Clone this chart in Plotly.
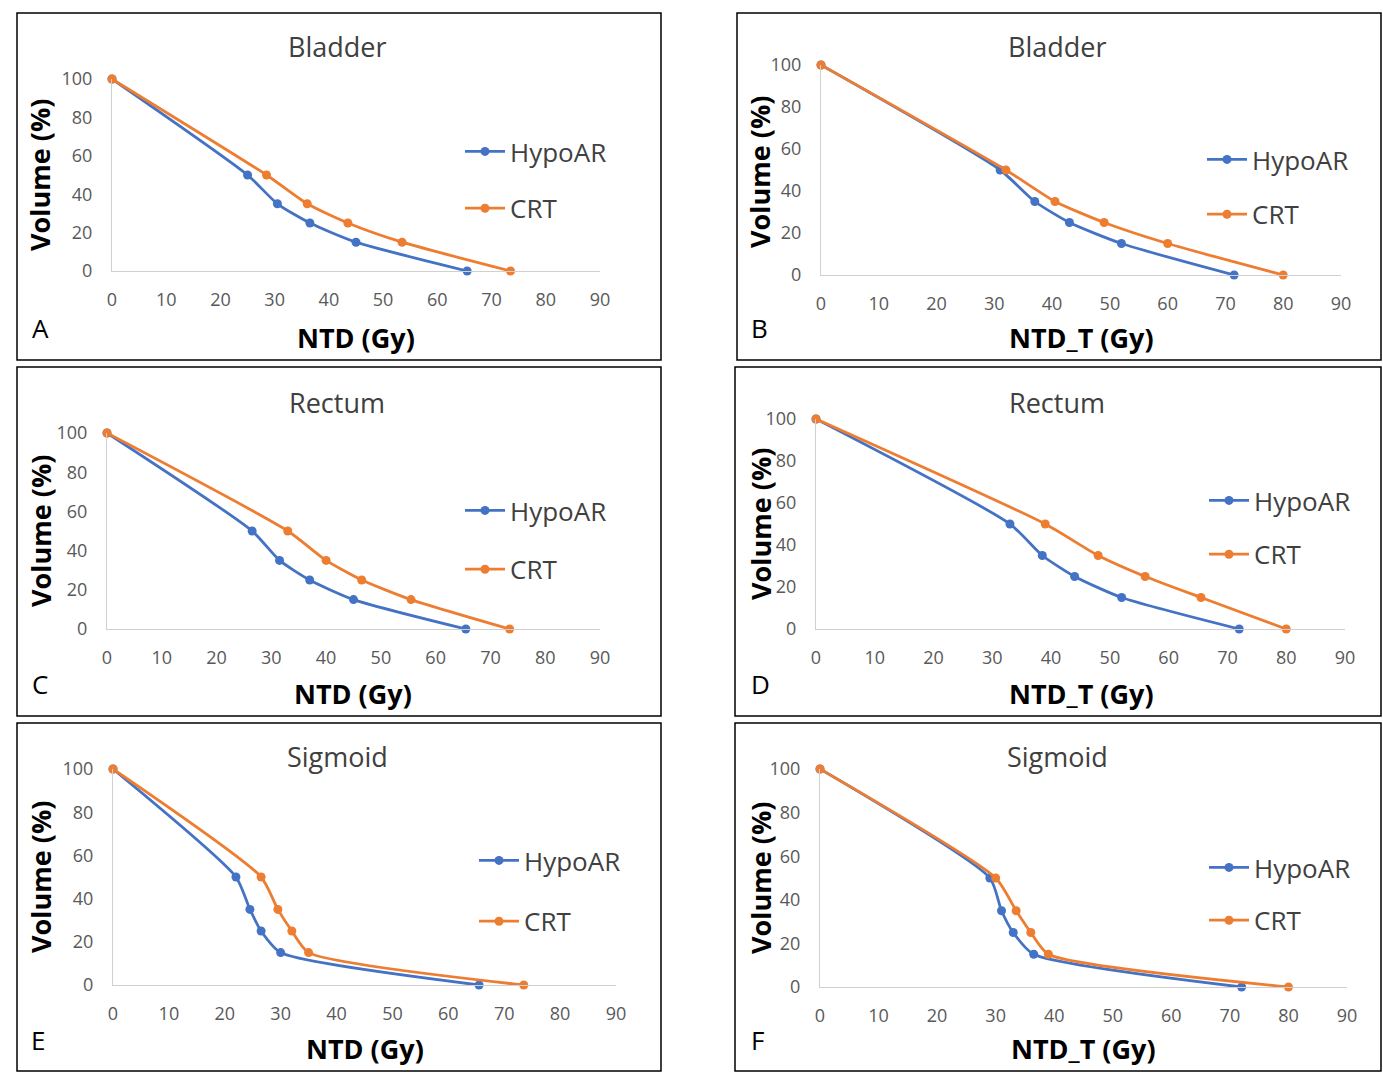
import plotly.graph_objects as go

W, H = 1383, 1080

# ---------------- data ----------------
vol_hypo = [100, 50, 35, 25, 15, 0]
vol_crt = [100, 50, 35, 25, 15, 0]

bladder_ntd_hypo = [0, 25, 30.5, 36.5, 45, 65.5]
bladder_ntd_crt = [0, 28.5, 36, 43.5, 53.5, 73.5]
bladder_ntdt_hypo = [0, 31, 37, 43, 52, 71.5]
bladder_ntdt_crt = [0, 32, 40.5, 49, 60, 80]
rectum_ntd_hypo = [0, 26.5, 31.5, 37, 45, 65.5]
rectum_ntd_crt = [0, 33, 40, 46.5, 55.5, 73.5]
rectum_ntdt_hypo = [0, 33, 38.5, 44, 52, 72]
rectum_ntdt_crt = [0, 39, 48, 56, 65.5, 80]
sigmoid_ntd_hypo = [0, 22, 24.5, 26.5, 30, 65.5]
sigmoid_ntd_crt = [0, 26.5, 29.5, 32, 35, 73.5]
sigmoid_ntdt_hypo = [0, 29, 31, 33, 36.5, 72]
sigmoid_ntdt_crt = [0, 30, 33.5, 36, 39, 80]

x_ticks = [0, 10, 20, 30, 40, 50, 60, 70, 80, 90]
y_ticks = [0, 20, 40, 60, 80, 100]
series_names = ["HypoAR", "CRT"]
colors = ["#4472C4", "#ED7D31"]

FONT = "Open Sans"

panels = [
    dict(letter="A", title="Bladder", xt="NTD (Gy)", hx=bladder_ntd_hypo, cx=bladder_ntd_crt,
         box=(17, 13, 661, 360), plot=(112, 79, 600, 271), leg=(460, 128), gap=20,
         ttl=(337, 46), xtl=(356, 338), ytl=(40, 175), let=(40, 328)),
    dict(letter="B", title="Bladder", xt="NTD_T (Gy)", hx=bladder_ntdt_hypo, cx=bladder_ntdt_crt,
         box=(737, 13, 1381, 360), plot=(821, 65, 1341, 275), leg=(1202, 136), gap=18,
         ttl=(1057, 46), xtl=(1081, 338), ytl=(760, 172), let=(759, 328)),
    dict(letter="C", title="Rectum", xt="NTD (Gy)", hx=rectum_ntd_hypo, cx=rectum_ntd_crt,
         box=(17, 367, 661, 716), plot=(107, 433, 600, 629), leg=(460, 487), gap=22,
         ttl=(337, 402), xtl=(353, 693), ytl=(40, 531), let=(40, 684)),
    dict(letter="D", title="Rectum", xt="NTD_T (Gy)", hx=rectum_ntdt_hypo, cx=rectum_ntdt_crt,
         box=(735, 367, 1381, 716), plot=(816, 419, 1345, 629), leg=(1204, 477), gap=17,
         ttl=(1057, 402), xtl=(1081, 693), ytl=(760, 524), let=(761, 684)),
    dict(letter="E", title="Sigmoid", xt="NTD (Gy)", hx=sigmoid_ntd_hypo, cx=sigmoid_ntd_crt,
         box=(17, 723, 661, 1071), plot=(113, 769, 616, 985), leg=(474, 837), gap=24,
         ttl=(337, 756), xtl=(365, 1048), ytl=(40, 877), let=(38, 1040)),
    dict(letter="F", title="Sigmoid", xt="NTD_T (Gy)", hx=sigmoid_ntdt_hypo, cx=sigmoid_ntdt_crt,
         box=(735, 723, 1381, 1071), plot=(820, 769, 1347, 987), leg=(1204, 844), gap=16,
         ttl=(1057, 756), xtl=(1083, 1048), ytl=(760, 878), let=(757, 1040)),
]


def px(x):
    return x / W


def py(y):
    return 1 - y / H


fig = go.Figure()
annotations = []
shapes = []
layout_extra = {}


def add_text(text, x, y, size, color, angle=0):
    annotations.append(dict(text=text, x=px(x), y=py(y), xref="paper", yref="paper",
                            xanchor="center", yanchor="middle", showarrow=False,
                            textangle=angle, font=dict(size=size, color=color, family=FONT)))


for i, p in enumerate(panels):
    n = i + 1
    xa = "x" if n == 1 else f"x{n}"
    ya = "y" if n == 1 else f"y{n}"
    xkey = "xaxis" if n == 1 else f"xaxis{n}"
    ykey = "yaxis" if n == 1 else f"yaxis{n}"
    lkey = "legend" if n == 1 else f"legend{n}"
    x0, y0, x1, y1 = p["plot"]
    layout_extra[xkey] = dict(
        domain=[px(x0), px(x1)], range=[0, 90], anchor=ya, tickvals=x_ticks,
        showgrid=False, zeroline=False, showline=True, linecolor="#d0d0d0", linewidth=1,
        ticks="", ticklabelstandoff=12, tickfont=dict(size=18, color="#595959", family=FONT),
        fixedrange=True)
    layout_extra[ykey] = dict(
        domain=[py(y1), py(y0)], range=[0, 100], anchor=xa, tickvals=y_ticks,
        showgrid=False, zeroline=False, showline=True, linecolor="#d0d0d0", linewidth=1,
        ticks="", ticklabelstandoff=15, tickfont=dict(size=18, color="#595959", family=FONT),
        fixedrange=True)
    layout_extra[lkey] = dict(
        x=px(p["leg"][0]), y=py(p["leg"][1]), xanchor="left", yanchor="top",
        bgcolor="rgba(0,0,0,0)", font=dict(size=26, color="#404040", family=FONT),
        tracegroupgap=p["gap"], itemwidth=40)
    for name, xs, ys, col in [(series_names[0], p["hx"], vol_hypo, colors[0]),
                              (series_names[1], p["cx"], vol_crt, colors[1])]:
        fig.add_trace(go.Scatter(
            x=xs, y=ys, mode="lines+markers", name=name,
            line=dict(color=col, width=2.8, shape="spline", smoothing=0.6),
            marker=dict(color=col, size=9), xaxis=xa, yaxis=ya,
            legend=lkey, legendgroup=f"{name}{n}", cliponaxis=False))
    bx0, by0, bx1, by1 = p["box"]
    shapes.append(dict(type="rect", xref="paper", yref="paper", x0=px(bx0), x1=px(bx1),
                       y0=py(by1), y1=py(by0), line=dict(color="black", width=1.5)))
    add_text(p["title"], p["ttl"][0], p["ttl"][1], 27, "#404040")
    add_text(f"<b>{p['xt']}</b>", p["xtl"][0], p["xtl"][1], 27, "black")
    add_text("<b>Volume (%)</b>", p["ytl"][0], p["ytl"][1], 27, "black", angle=-90)
    add_text(p["letter"], p["let"][0], p["let"][1], 26, "black")

fig.update_layout(
    width=W, height=H, margin=dict(l=0, r=0, t=0, b=0, autoexpand=False),
    paper_bgcolor="white", plot_bgcolor="white",
    showlegend=True, annotations=annotations, shapes=shapes, **layout_extra)

fig.write_html("out.html", config={"displayModeBar": False},
               post_script="document.body.style.margin='0';document.body.style.overflow='hidden';")
